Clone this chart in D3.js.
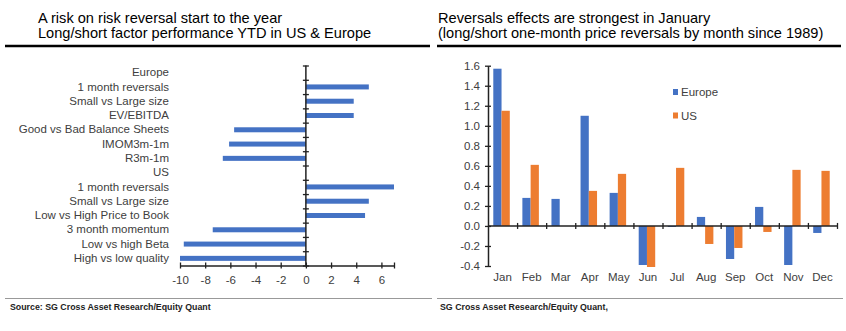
<!DOCTYPE html>
<html>
<head>
<meta charset="utf-8">
<script src="https://cdn.jsdelivr.net/npm/d3@7"></script>
<style>
  body { margin: 0; background: #fff; }
  svg text { font-family: Arial, "Liberation Sans", sans-serif; }
</style>
</head>
<body>
<script>
// Left chart data: long/short factor performance YTD
const factorLabels = [
  "Europe", "1 month reversals", "Small vs Large size", "EV/EBITDA",
  "Good vs Bad Balance Sheets", "IMOM3m-1m", "R3m-1m",
  "US", "1 month reversals", "Small vs Large size", "Low vs High Price to Book",
  "3 month momentum", "Low vs high Beta", "High vs low quality"
];
const factorValues = [null, 5.0, 3.8, 3.8, -5.7, -6.1, -6.6, null, 7.0, 5.0, 4.7, -7.4, -9.7, -10.0];
const factorTicks = [-10, -8, -6, -4, -2, 0, 2, 4, 6];

// Right chart data: one-month price reversals by month
const months = ["Jan", "Feb", "Mar", "Apr", "May", "Jun", "Jul", "Aug", "Sep", "Oct", "Nov", "Dec"];
const europeValues = [1.57, 0.28, 0.27, 1.10, 0.33, -0.39, -0.01, 0.09, -0.33, 0.19, -0.39, -0.07];
const usValues = [1.15, 0.61, 0.0, 0.35, 0.52, -0.41, 0.58, -0.18, -0.22, -0.06, 0.56, 0.55];
const seriesNames = ["Europe", "US"];
const yTicks = [-0.4, -0.2, 0.0, 0.2, 0.4, 0.6, 0.8, 1.0, 1.2, 1.4, 1.6];

const blue = "#4472c4";
const orange = "#ed7d31";
const textCol = "#404040";
const labelSize = 11.5;

const svg = d3.select("body").append("svg")
  .attr("width", 846)
  .attr("height", 331);

svg.append("rect").attr("width", 846).attr("height", 331).attr("fill", "#fff");

// Titles and rules
const titles = [
  { x: 38, lines: ["A risk on risk reversal start to the year", "Long/short factor performance YTD in US & Europe"] },
  { x: 438, lines: ["Reversals effects are strongest in January", "(long/short one-month price reversals by month since 1989)"] }
];
titles.forEach(t => {
  t.lines.forEach((l, i) => {
    svg.append("text")
      .attr("x", t.x).attr("y", 22.5 + i * 15)
      .attr("font-size", 14.6)
      .attr("fill", "#000")
      .text(l);
  });
});
svg.append("line").attr("x1", 5).attr("x2", 430).attr("y1", 46).attr("y2", 46)
  .attr("stroke", "#000").attr("stroke-width", 2.5);
svg.append("line").attr("x1", 437).attr("x2", 841).attr("y1", 46).attr("y2", 46)
  .attr("stroke", "#000").attr("stroke-width", 2.5);

// Footers
svg.append("line").attr("x1", 5).attr("x2", 432).attr("y1", 298.5).attr("y2", 298.5)
  .attr("stroke", "#999").attr("stroke-width", 1);
svg.append("line").attr("x1", 437).attr("x2", 843).attr("y1", 298.5).attr("y2", 298.5)
  .attr("stroke", "#999").attr("stroke-width", 1);
svg.append("text").attr("x", 10).attr("y", 310).attr("font-size", 8.8)
  .attr("font-weight", "bold").attr("fill", "#222")
  .text("Source: SG Cross Asset Research/Equity Quant");
svg.append("text").attr("x", 440).attr("y", 310).attr("font-size", 8.8)
  .attr("font-weight", "bold").attr("fill", "#222")
  .text("SG Cross Asset Research/Equity Quant,");

// ---------- Left chart ----------
const lx = d3.scaleLinear().domain([-10, 7]).range([180, 394]);
const ly = d3.scaleBand().domain(d3.range(factorLabels.length)).range([65.5, 265.5]);
const lyEdges = d3.scaleLinear().domain([0, factorLabels.length]).range([65.5, 265.5]);

const left = svg.append("g");

left.selectAll("rect.bar")
  .data(factorValues.map((v, i) => ({ v, i })).filter(d => d.v !== null))
  .join("rect")
  .attr("class", "bar")
  .attr("x", d => lx(Math.min(0, d.v)))
  .attr("width", d => Math.abs(lx(d.v) - lx(0)))
  .attr("y", d => ly(d.i) + ly.bandwidth() / 2 - 2.5)
  .attr("height", 5)
  .attr("fill", blue);

// category labels
left.append("g")
  .attr("transform", "translate(169,0)")
  .call(d3.axisLeft(ly).tickSize(0).tickPadding(0).tickFormat(i => factorLabels[i]))
  .call(g => g.select(".domain").remove())
  .call(g => g.selectAll("text").attr("font-size", labelSize).attr("fill", textCol)
    .attr("font-family", "Arial, 'Liberation Sans', sans-serif"));

// vertical axis at zero with crossing ticks at category edges
left.append("g")
  .attr("transform", `translate(${lx(0) + 3},0)`)
  .call(d3.axisLeft(lyEdges).tickValues(d3.range(factorLabels.length + 1)).tickSize(6).tickFormat(""))
  .call(g => g.select(".domain").remove())
  .call(g => g.selectAll("line").attr("stroke", "#222").attr("stroke-width", 1.3));
left.append("line")
  .attr("x1", lx(0)).attr("x2", lx(0)).attr("y1", 65.5).attr("y2", 265.5)
  .attr("stroke", "#222").attr("stroke-width", 1.5);

// horizontal value axis
left.append("g")
  .attr("transform", "translate(0,268.5)")
  .call(d3.axisTop(lx).tickValues(factorTicks.concat([7])).tickSize(6).tickFormat(""))
  .call(g => g.select(".domain").remove())
  .call(g => g.selectAll("line").attr("stroke", "#222").attr("stroke-width", 1.3));
left.append("g")
  .attr("transform", "translate(0,265.5)")
  .call(d3.axisBottom(lx).tickValues(factorTicks).tickSize(0).tickPadding(10).tickFormat(d => String(d)))
  .call(g => g.select(".domain").attr("stroke", "#222").attr("stroke-width", 1.5))
  .call(g => g.selectAll("text").attr("font-size", labelSize).attr("fill", textCol)
    .attr("font-family", "Arial, 'Liberation Sans', sans-serif"));

// ---------- Right chart ----------
const rx = d3.scaleBand().domain(months).range([488, 837]);
const rxEdges = d3.scaleLinear().domain([0, months.length]).range([488, 837]);
const ry = d3.scaleLinear().domain([-0.4, 1.6]).range([266, 65.7]);
const inner = d3.scaleBand().domain(seriesNames).range([0, 16.5]);
const groupOff = (rx.bandwidth() - 16.5) / 2 - 1;

const right = svg.append("g");
const seriesData = [europeValues, usValues];
const colors = [blue, orange];

seriesNames.forEach((name, s) => {
  right.selectAll(`rect.s${s}`)
    .data(months.map((m, i) => ({ m, v: seriesData[s][i] })))
    .join("rect")
    .attr("class", `s${s}`)
    .attr("x", d => rx(d.m) + groupOff + inner(name))
    .attr("width", inner.bandwidth())
    .attr("y", d => ry(Math.max(0, d.v)))
    .attr("height", d => Math.abs(ry(d.v) - ry(0)))
    .attr("fill", colors[s]);
});

// y axis
right.append("g")
  .attr("transform", "translate(491,0)")
  .call(d3.axisLeft(ry).tickValues(yTicks).tickSize(6).tickFormat(""))
  .call(g => g.select(".domain").remove())
  .call(g => g.selectAll("line").attr("stroke", "#222").attr("stroke-width", 1.3));
right.append("g")
  .attr("transform", "translate(488,0)")
  .call(d3.axisLeft(ry).tickValues(yTicks).tickSize(0).tickPadding(8).tickFormat(d => d.toFixed(1)))
  .call(g => g.select(".domain").attr("stroke", "#222").attr("stroke-width", 1.5))
  .call(g => g.selectAll("text").attr("font-size", labelSize).attr("fill", textCol)
    .attr("font-family", "Arial, 'Liberation Sans', sans-serif"));

// zero line with crossing ticks at month edges
right.append("g")
  .attr("transform", `translate(0,${ry(0) + 3})`)
  .call(d3.axisTop(rxEdges).tickValues(d3.range(1, months.length + 1)).tickSize(6).tickFormat(""))
  .call(g => g.select(".domain").remove())
  .call(g => g.selectAll("line").attr("stroke", "#222").attr("stroke-width", 1.3));
right.append("line")
  .attr("x1", 488).attr("x2", 837).attr("y1", ry(0)).attr("y2", ry(0))
  .attr("stroke", "#222").attr("stroke-width", 1.5);

// month labels (low position)
right.append("g")
  .attr("transform", "translate(0,273)")
  .call(d3.axisBottom(rx).tickSize(0).tickPadding(0))
  .call(g => g.select(".domain").remove())
  .call(g => g.selectAll("text").attr("font-size", labelSize).attr("fill", textCol)
    .attr("font-family", "Arial, 'Liberation Sans', sans-serif"));

// legend
const legend = right.append("g").attr("transform", "translate(673,92)");
seriesNames.forEach((name, s) => {
  const g = legend.append("g").attr("transform", `translate(0,${s * 23.5})`);
  g.append("rect").attr("x", 0).attr("y", -3).attr("width", 5).attr("height", 6).attr("fill", colors[s]);
  g.append("text").attr("x", 8).attr("y", 4).attr("font-size", labelSize).attr("fill", textCol).text(name);
});
</script>
</body>
</html>
